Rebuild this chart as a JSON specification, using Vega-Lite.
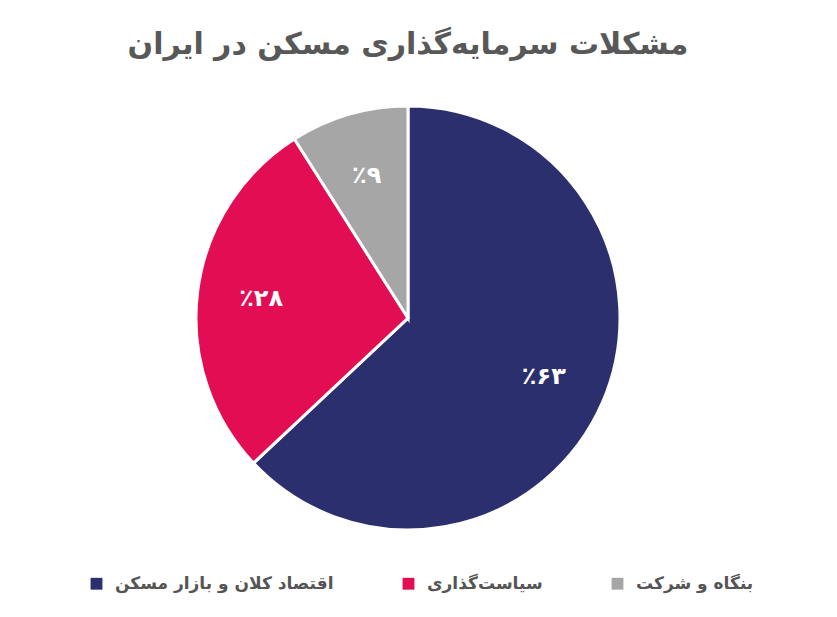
{
  "$schema": "https://vega.github.io/schema/vega-lite/v6.json",
  "autosize": "none",
  "width": 424,
  "height": 424,
  "padding": {"left": 196, "top": 106, "right": 217, "bottom": 87},
  "background": "white",
  "title": {
    "text": "مشکلات سرمایه‌گذاری مسکن در ایران",
    "font": "DejaVu Sans",
    "fontSize": 30,
    "fontWeight": "bold",
    "color": "#585858",
    "anchor": "middle",
    "offset": 40
  },
  "data": {
    "values": [
      {"group": "اقتصاد کلان و بازار مسکن", "share": 63, "label": "٪۶۳", "rank": 1},
      {"group": "سیاست‌گذاری", "share": 28, "label": "٪۲۸", "rank": 2},
      {"group": "بنگاه و شرکت", "share": 9, "label": "٪۹", "rank": 3}
    ]
  },
  "encoding": {
    "theta": {"field": "share", "type": "quantitative", "stack": true},
    "order": {"field": "rank", "type": "quantitative"},
    "color": {
      "field": "group",
      "type": "nominal",
      "sort": ["اقتصاد کلان و بازار مسکن", "سیاست‌گذاری", "بنگاه و شرکت"],
      "scale": {
        "domain": ["اقتصاد کلان و بازار مسکن", "سیاست‌گذاری", "بنگاه و شرکت"],
        "range": ["#2b2f6e", "#e30d54", "#a6a6a6"]
      },
      "legend": {
        "title": null,
        "orient": "none",
        "legendX": -108,
        "legendY": 469,
        "direction": "horizontal",
        "symbolType": "square",
        "symbolSize": 140,
        "symbolStrokeWidth": 0,
        "labelFont": "DejaVu Sans",
        "labelFontSize": 17,
        "labelFontWeight": "bold",
        "labelColor": "#555555",
        "labelOffset": 10,
        "columnPadding": 66,
        "labelLimit": 400
      }
    }
  },
  "layer": [
    {
      "mark": {"type": "arc", "outerRadius": 212, "stroke": "white", "strokeWidth": 3}
    },
    {
      "mark": {
        "type": "text",
        "radius": 148,
        "font": "DejaVu Sans",
        "fontSize": 24,
        "fontWeight": "bold",
        "color": "white"
      },
      "encoding": {
        "text": {"field": "label", "type": "nominal"},
        "color": {"value": "white"}
      }
    }
  ],
  "config": {"view": {"stroke": null}}
}
